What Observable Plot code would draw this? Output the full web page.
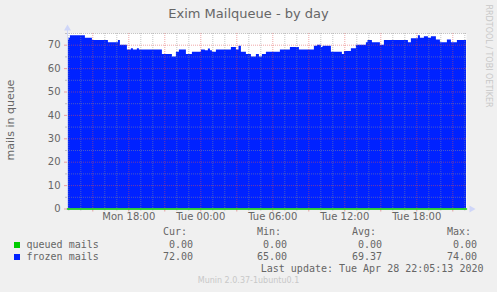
<!DOCTYPE html>
<html><head><meta charset="utf-8">
<script src="https://cdn.jsdelivr.net/npm/d3@7"></script>
<script src="https://cdn.jsdelivr.net/npm/@observablehq/plot@0.6"></script>
<style>
html,body{margin:0;padding:0;background:#f0f0f0;}
#wrap{position:relative;width:497px;height:292px;overflow:hidden;background:#f0f0f0;font-family:"DejaVu Sans";color:#666;}
#wrap svg{position:absolute;left:0;top:0;}
.t{position:absolute;white-space:pre;line-height:12px;}
.mono{font-family:"DejaVu Sans Mono";font-size:10px;}
.sq{position:absolute;width:6px;height:6px;}
</style></head><body><div id="wrap"></div>
<script>
// ---- data ----
const domainStart = "2020-04-27T12:53:30";
const domainEnd = "2020-04-28T22:08:30";
const frozenTimes = [
  "2020-04-27T12:53:30","2020-04-27T13:01","2020-04-27T13:08","2020-04-27T14:23","2020-04-27T14:58",
  "2020-04-27T16:18","2020-04-27T17:08","2020-04-27T17:18","2020-04-27T17:53","2020-04-27T18:13",
  "2020-04-27T18:23","2020-04-27T18:43","2020-04-27T18:53","2020-04-27T20:48","2020-04-27T21:38",
  "2020-04-27T21:58","2020-04-27T22:13","2020-04-27T22:48","2020-04-27T23:18","2020-04-28T00:03",
  "2020-04-28T00:23","2020-04-28T00:38","2020-04-28T00:48","2020-04-28T00:58","2020-04-28T01:18",
  "2020-04-28T02:33","2020-04-28T02:58","2020-04-28T03:11","2020-04-28T03:23","2020-04-28T03:48",
  "2020-04-28T04:13","2020-04-28T04:38","2020-04-28T04:53","2020-04-28T05:08","2020-04-28T05:28",
  "2020-04-28T06:38","2020-04-28T07:28","2020-04-28T08:13","2020-04-28T09:28","2020-04-28T09:43",
  "2020-04-28T10:03","2020-04-28T10:11","2020-04-28T10:53","2020-04-28T11:48","2020-04-28T11:58",
  "2020-04-28T12:33","2020-04-28T12:58","2020-04-28T13:48","2020-04-28T13:56","2020-04-28T14:18",
  "2020-04-28T14:58","2020-04-28T15:18","2020-04-28T17:18","2020-04-28T17:33","2020-04-28T18:08",
  "2020-04-28T18:18","2020-04-28T18:38","2020-04-28T18:58","2020-04-28T19:13","2020-04-28T19:38",
  "2020-04-28T19:58","2020-04-28T20:33","2020-04-28T20:53","2020-04-28T21:23","2020-04-28T22:08:30"
];
const frozenValues = [
  72, 73, 74, 73, 72,
  71, 72, 70, 68, 68.5,
  68, 68.5, 68, 66, 65,
  67, 68, 66, 67, 68,
  67.6, 68.4, 67.6, 67, 68,
  69, 68, 69.5, 67, 66,
  65, 66, 65, 66, 67,
  68, 69, 68, 69.5, 70,
  69, 69.5, 67, 66, 67.3,
  68.5, 70, 71, 72, 71,
  70, 72, 71, 72.8, 74,
  73, 73.6, 73, 73.6, 72.2,
  71, 72.2, 71, 72, 72
];
const queuedTimes = ["2020-04-27T12:53:30", "2020-04-28T22:08:30"];
const queuedValues = [0, 0];
const yLabelTicks = [0, 10, 20, 30, 40, 50, 60, 70];
const yMinorTicks = [5, 15, 25, 35, 45, 55, 65, 75];
const xTickTimes = ["2020-04-27T18:00","2020-04-28T00:00","2020-04-28T06:00","2020-04-28T12:00","2020-04-28T18:00"];
const xTickLabels = ["Mon 18:00","Tue 00:00","Tue 06:00","Tue 12:00","Tue 18:00"];
const seriesNames = ["queued mails", "frozen mails"];
const seriesColors = ["#00cc00", "#0022ff"];
const statHeaders = ["Cur:", "Min:", "Avg:", "Max:"];
const queuedStats = ["0.00", "0.00", "0.00", "0.00"];
const frozenStats = ["72.00", "65.00", "69.37", "74.00"];
const titleText = "Exim Mailqueue - by day";
const yLabelText = "mails in queue";
const lastUpdateText = "Last update: Tue Apr 28 22:05:13 2020";
const muninText = "Munin 2.0.37-1ubuntu0.1";
const rrdText = "RRDTOOL / TOBI OETIKER";

// ---- build ----
const frozen = frozenTimes.map((t, i) => ({t: new Date(t), v: frozenValues[i]}));
const queued = queuedTimes.map((t, i) => ({t: new Date(t), v: queuedValues[i]}));
const x0 = new Date(domainStart), x1 = new Date(domainEnd);
const hours = d3.timeHour.range(x0, x1);
const minorHours = hours.filter(d => d.getHours() % 3 !== 0);
const majorHours = hours.filter(d => d.getHours() % 3 === 0);
const labelDates = xTickTimes.map(t => new Date(t));
const labelMap = new Map(labelDates.map((d, i) => [+d, xTickLabels[i]]));
const gridGray = "rgba(144,144,144,0.5)";
const gridRed = "rgba(224,80,80,0.5)";
const axisCol = "#CFD6F8";

const chart = Plot.plot({
  width: 497, height: 232,
  marginLeft: 67, marginRight: 31, marginTop: 33, marginBottom: 23.5,
  style: {background: "transparent", fontFamily: "DejaVu Sans", fontSize: "10px", color: "#666", overflow: "visible"},
  x: {type: "time", domain: [x0, x1]},
  y: {domain: [0, 75]},
  marks: [
    Plot.frame({fill: "white", stroke: null}),
    Plot.areaY(frozen, {x: "t", y: "v", fill: seriesColors[1], curve: "step-after"}),
    Plot.ruleY(yMinorTicks, {stroke: gridGray, strokeDasharray: "1,1"}),
    Plot.ruleY(yLabelTicks.filter(d => d > 0), {stroke: gridRed, strokeDasharray: "1,1"}),
    Plot.ruleX(minorHours, {stroke: gridGray, strokeDasharray: "1,1"}),
    Plot.ruleX(majorHours, {stroke: gridRed, strokeDasharray: "1,1"}),
    Plot.axisX({ticks: minorHours, tickSize: 2, tickFormat: () => "", stroke: gridGray, label: null}),
    Plot.axisX({ticks: majorHours, tickSize: 3, tickFormat: () => "", stroke: gridRed, label: null}),
    Plot.axisX({ticks: labelDates, tickSize: 0, tickPadding: 4, tickFormat: d => labelMap.get(+d), label: null}),
    Plot.axisY({ticks: yMinorTicks, tickSize: 2, tickFormat: () => "", stroke: gridGray, label: null}),
    Plot.axisY({ticks: yLabelTicks, tickSize: 3, tickPadding: 4, stroke: gridRed, label: null}),
    Plot.ruleX([x0], {stroke: axisCol, y1: 0, y2: 77}),
    Plot.ruleY([0], {stroke: axisCol}),
    Plot.lineY(queued, {x: "t", y: "v", stroke: seriesColors[0], strokeWidth: 1.5}),
    Plot.dot([0], {frameAnchor: "top-left", symbol: "triangle", r: 2.6, fill: axisCol, dy: -5}),
    Plot.dot([0], {frameAnchor: "bottom-right", symbol: "triangle", r: 2.6, fill: axisCol, rotate: 90, dx: 5})
  ]
});
const wrap = document.getElementById("wrap");
wrap.appendChild(chart);

function addText(txt, css, cls) {
  const d = document.createElement("div");
  d.className = "t" + (cls ? " " + cls : "");
  d.textContent = txt;
  Object.assign(d.style, css);
  wrap.appendChild(d);
  return d;
}
// title
addText(titleText, {left: "0px", width: "497px", textAlign: "center", top: "5.5px", fontSize: "13px", lineHeight: "16px"});
// y label (rotated)
addText(yLabelText, {left: "11px", top: "120px", fontSize: "11px", lineHeight: "14px", transform: "translate(-50%,-50%) rotate(-90deg)"});
// rrdtool vertical
addText(rrdText, {left: "488px", top: "56px", fontSize: "8px", lineHeight: "10px", color: "#c8c8c8", transform: "translate(-50%,-50%) rotate(90deg)"});
// legend headers
const colRight = [193, 287, 382, 477];
statHeaders.forEach((h, i) => addText(h, {left: (colRight[i] - 30) + "px", top: "226px"}, "mono"));
const rowsY = [238.7, 251];
[queuedStats, frozenStats].forEach((stats, r) => {
  const sq = document.createElement("div");
  sq.className = "sq";
  Object.assign(sq.style, {left: "13.5px", top: (rowsY[r] + 3.3) + "px", background: seriesColors[r]});
  wrap.appendChild(sq);
  addText(seriesNames[r], {left: "26.5px", top: rowsY[r] + "px"}, "mono");
  stats.forEach((s, i) => addText(s, {left: (colRight[i] - 60) + "px", width: "60px", textAlign: "right", top: rowsY[r] + "px"}, "mono"));
});
addText(lastUpdateText, {left: "0px", width: "483.5px", textAlign: "right", top: "262.7px"}, "mono");
addText(muninText, {left: "0px", width: "497px", textAlign: "center", top: "276px", fontSize: "8px", lineHeight: "10px", color: "#c8c8c8"});
</script></body></html>
